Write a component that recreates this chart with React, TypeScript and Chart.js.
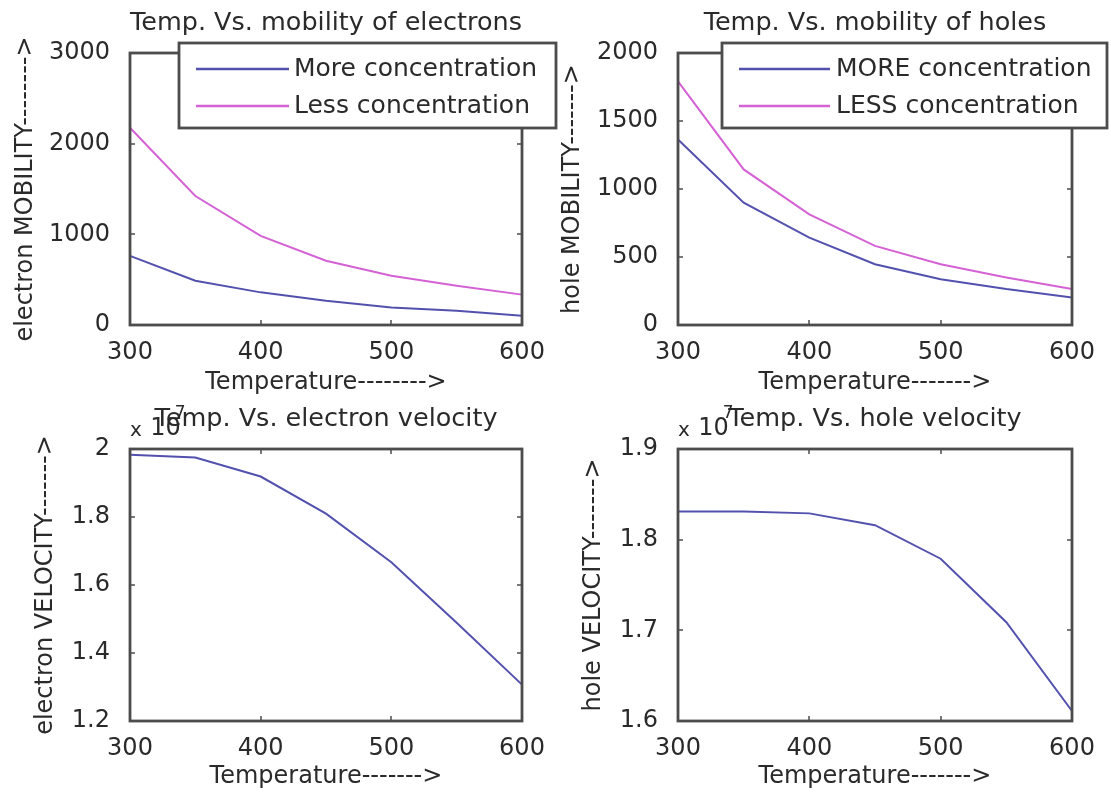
import React, { useEffect, useRef } from "react";
import { Chart, registerables } from "chart.js";

Chart.register(...registerables);

// ---------------- data ----------------
const temperatures = [300, 350, 400, 450, 500, 550, 600];

const electronMobilityMore = [763, 488, 360, 268, 194, 158, 103];
const electronMobilityLess = [2175, 1423, 983, 708, 543, 433, 335];

const holeMobilityMore = [1364, 900, 643, 447, 337, 264, 203];
const holeMobilityLess = [1792, 1144, 814, 582, 447, 350, 264];

const electronVelocity = [1.983e7, 1.975e7, 1.919e7, 1.81e7, 1.667e7, 1.489e7, 1.307e7];
const holeVelocity = [1.831e7, 1.831e7, 1.829e7, 1.816e7, 1.779e7, 1.709e7, 1.611e7];

const xTicks = [300, 400, 500, 600];
const electronMobilityTicks = [0, 1000, 2000, 3000];
const holeMobilityTicks = [0, 500, 1000, 1500, 2000];
const electronVelocityTicks = [1.2e7, 1.4e7, 1.6e7, 1.8e7, 2.0e7];
const holeVelocityTicks = [1.6e7, 1.7e7, 1.8e7, 1.9e7];

// ---------------- styling ----------------
const W = 1111;
const H = 795;
const FAMILY = "'DejaVu Sans', 'Liberation Sans', sans-serif";
const TEXT = "#2a2a2a";
const FRAME = "#4c4c4c";
const BLUE = "#5252ae";
const MAGENTA = "#d462d4";
const TITLE_SIZE = 25.5;
const TICK_SIZE = 24;
const LABEL_SIZE = 24;
const LH = 1.2;

type Legend = {
  x0: number; y0: number; x1: number; y1: number;
  lineX0: number; lineX1: number; textX: number; rows: number[];
};

type Panel = {
  title: string;
  xTitle: string;
  yTitle: string;
  series: { label: string; data: number[]; color: string }[];
  yTicks: number[];
  fmt: (v: number) => string;
  area: { left: number; top: number; right: number; bottom: number };
  titleY: number;
  xTitleY: number;
  yTitleX: number;
  legend?: Legend;
  exponent?: { x: number; y: number; power: string };
};

const panels: Panel[] = [
  {
    title: "Temp. Vs. mobility of electrons",
    xTitle: "Temperature-------->",
    yTitle: "electron MOBILITY-------->",
    series: [
      { label: "More concentration", data: electronMobilityMore, color: BLUE },
      { label: "Less concentration", data: electronMobilityLess, color: MAGENTA },
    ],
    yTicks: electronMobilityTicks,
    fmt: (v) => String(v),
    area: { left: 130, top: 53, right: 522, bottom: 325 },
    titleY: 23,
    xTitleY: 383,
    yTitleX: 26,
    legend: { x0: 179, y0: 43, x1: 556, y1: 128, lineX0: 196, lineX1: 289, textX: 294, rows: [69, 106] },
  },
  {
    title: "Temp. Vs. mobility of holes",
    xTitle: "Temperature------->",
    yTitle: "hole MOBILITY------->",
    series: [
      { label: "MORE concentration", data: holeMobilityMore, color: BLUE },
      { label: "LESS concentration", data: holeMobilityLess, color: MAGENTA },
    ],
    yTicks: holeMobilityTicks,
    fmt: (v) => String(v),
    area: { left: 678, top: 53, right: 1072, bottom: 325 },
    titleY: 23,
    xTitleY: 383,
    yTitleX: 573,
    legend: { x0: 722, y0: 43, x1: 1107, y1: 128, lineX0: 739, lineX1: 830, textX: 836, rows: [69, 106] },
  },
  {
    title: "Temp. Vs. electron velocity",
    xTitle: "Temperature------->",
    yTitle: "electron VELOCITY------->",
    series: [{ label: "electron velocity", data: electronVelocity, color: BLUE }],
    yTicks: electronVelocityTicks,
    fmt: (v) => (v / 1e7).toFixed(1).replace(/\.0$/, ""),
    area: { left: 130, top: 449, right: 522, bottom: 721 },
    titleY: 419,
    xTitleY: 777,
    yTitleX: 46,
    exponent: { x: 130, y: 429, power: "7" },
  },
  {
    title: "Temp. Vs. hole velocity",
    xTitle: "Temperature------->",
    yTitle: "hole VELOCITY------->",
    series: [{ label: "hole velocity", data: holeVelocity, color: BLUE }],
    yTicks: holeVelocityTicks,
    fmt: (v) => (v / 1e7).toFixed(1),
    area: { left: 678, top: 449, right: 1072, bottom: 721 },
    titleY: 419,
    xTitleY: 777,
    yTitleX: 594,
    exponent: { x: 678, y: 429, power: "7" },
  },
];

function framePlugin(p: Panel) {
  return {
    id: "frame",
    afterDraw(chart: any) {
      const { ctx, chartArea: a, scales } = chart;
      ctx.save();
      ctx.strokeStyle = FRAME;
      // inward ticks on all four sides
      ctx.lineWidth = 1.5;
      const tl = 5;
      ctx.beginPath();
      scales.x.ticks.forEach((t: any) => {
        const px = Math.round(scales.x.getPixelForValue(t.value));
        ctx.moveTo(px, a.bottom); ctx.lineTo(px, a.bottom - tl);
        ctx.moveTo(px, a.top); ctx.lineTo(px, a.top + tl);
      });
      scales.y.ticks.forEach((t: any) => {
        const py = Math.round(scales.y.getPixelForValue(t.value));
        ctx.moveTo(a.left, py); ctx.lineTo(a.left + tl, py);
        ctx.moveTo(a.right, py); ctx.lineTo(a.right - tl, py);
      });
      ctx.stroke();
      // axes box
      ctx.lineWidth = 2.8;
      ctx.strokeRect(a.left, a.top, a.right - a.left, a.bottom - a.top);

      // legend box
      const lg = p.legend;
      if (lg) {
        ctx.fillStyle = "#ffffff";
        ctx.fillRect(lg.x0, lg.y0, lg.x1 - lg.x0, lg.y1 - lg.y0);
        ctx.lineWidth = 2.8;
        ctx.strokeStyle = FRAME;
        ctx.strokeRect(lg.x0, lg.y0, lg.x1 - lg.x0, lg.y1 - lg.y0);
        chart.data.datasets.forEach((ds: any, i: number) => {
          const y = lg.rows[i];
          ctx.strokeStyle = ds.borderColor;
          ctx.lineWidth = 2.5;
          ctx.beginPath();
          ctx.moveTo(lg.lineX0, y);
          ctx.lineTo(lg.lineX1, y);
          ctx.stroke();
          ctx.fillStyle = TEXT;
          ctx.font = `25px ${FAMILY}`;
          ctx.textAlign = "left";
          ctx.textBaseline = "middle";
          ctx.fillText(ds.label, lg.textX, y);
        });
      }

      // exponent label "x 10^7"
      const ex = p.exponent;
      if (ex) {
        ctx.fillStyle = TEXT;
        ctx.textAlign = "left";
        ctx.textBaseline = "middle";
        ctx.font = `20px ${FAMILY}`;
        ctx.fillText("x", ex.x, ex.y + 2);
        const xw = ctx.measureText("x ").width;
        ctx.font = `24px ${FAMILY}`;
        ctx.fillText("10", ex.x + xw + 2, ex.y);
        const tw = ctx.measureText("10").width;
        ctx.font = `17px ${FAMILY}`;
        ctx.fillText(ex.power, ex.x + xw + tw - 4, ex.y - 15);
      }
      ctx.restore();
    },
  };
}

function makeConfig(p: Panel): any {
  const half = (LABEL_SIZE * LH) / 2;
  const titleH = TITLE_SIZE * LH;
  const padTop = p.titleY - titleH / 2;
  const scaleLeft = p.yTitleX - half;
  const scaleBottom = p.xTitleY + half;
  return {
    type: "line",
    data: {
      datasets: p.series.map((s) => ({
        label: s.label,
        data: temperatures.map((t, i) => ({ x: t, y: s.data[i] })),
        borderColor: s.color,
        backgroundColor: s.color,
        borderWidth: 2,
        pointRadius: 0,
        tension: 0,
        fill: false,
        clip: false,
      })),
    },
    options: {
      responsive: false,
      animation: false,
      events: [],
      layout: {
        padding: {
          left: scaleLeft,
          right: W - p.area.right,
          top: padTop,
          bottom: H - scaleBottom,
        },
      },
      plugins: {
        legend: { display: false },
        tooltip: { enabled: false },
        title: {
          display: true,
          text: p.title,
          fullSize: false,
          color: TEXT,
          font: { family: FAMILY, size: TITLE_SIZE, weight: "normal", lineHeight: LH },
          padding: { top: 0, bottom: p.area.top - padTop - titleH },
        },
      },
      scales: {
        x: {
          type: "linear",
          min: xTicks[0],
          max: xTicks[xTicks.length - 1],
          afterBuildTicks: (s: any) => {
            s.ticks = xTicks.map((v) => ({ value: v }));
          },
          ticks: {
            color: TEXT,
            font: { family: FAMILY, size: TICK_SIZE, lineHeight: LH },
            padding: 5,
            maxRotation: 0,
            autoSkip: false,
            callback: (v: number) => String(v),
          },
          grid: { display: false },
          border: { display: false },
          title: {
            display: true,
            text: p.xTitle,
            color: TEXT,
            font: { family: FAMILY, size: LABEL_SIZE, lineHeight: LH },
            padding: 0,
          },
          afterFit: (s: any) => {
            s.height = scaleBottom - p.area.bottom;
          },
        },
        y: {
          type: "linear",
          min: p.yTicks[0],
          max: p.yTicks[p.yTicks.length - 1],
          afterBuildTicks: (s: any) => {
            s.ticks = p.yTicks.map((v) => ({ value: v }));
          },
          ticks: {
            color: TEXT,
            font: { family: FAMILY, size: TICK_SIZE, lineHeight: LH },
            padding: 12,
            autoSkip: false,
            callback: (v: number) => p.fmt(v),
          },
          grid: { display: false },
          border: { display: false },
          title: {
            display: true,
            text: p.yTitle,
            color: TEXT,
            font: { family: FAMILY, size: LABEL_SIZE, lineHeight: LH },
            padding: 0,
          },
          afterFit: (s: any) => {
            s.width = p.area.left - scaleLeft;
          },
        },
      },
    },
    plugins: [framePlugin(p)],
  };
}

function PanelCanvas({ panel }: { panel: Panel }) {
  const ref = useRef<HTMLCanvasElement | null>(null);
  useEffect(() => {
    if (!ref.current) return;
    const chart = new Chart(ref.current, makeConfig(panel));
    return () => chart.destroy();
  }, [panel]);
  return (
    <canvas
      ref={ref}
      width={W}
      height={H}
      style={{ position: "absolute", left: 0, top: 0, width: W, height: H }}
    />
  );
}

export default function App() {
  return (
    <div
      style={{
        position: "fixed",
        left: 0,
        top: 0,
        width: W,
        height: H,
        background: "#ffffff",
        overflow: "hidden",
      }}
    >
      {panels.map((p, i) => (
        <PanelCanvas key={i} panel={p} />
      ))}
    </div>
  );
}
